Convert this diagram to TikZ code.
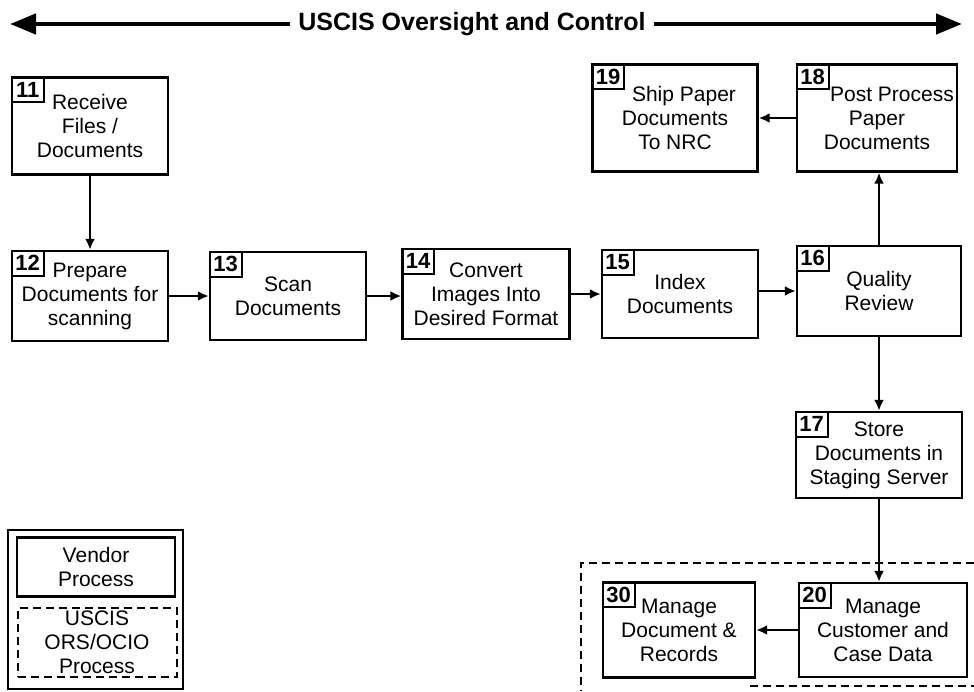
\documentclass[tikz,border=0pt]{standalone}
\usepackage{fontspec}
\setmainfont{Liberation Sans}
\usetikzlibrary{arrows.meta,positioning}

\begin{document}
\begin{tikzpicture}[x=1pt,y=-1pt,
 proc/.style={draw,line width=2.4pt,align=center,inner sep=0pt,minimum width=160pt,minimum height=90pt,font=\fontsize{21}{24}\selectfont},
 tag/.style={draw,line width=1.8pt,anchor=north west,inner sep=1.5pt,minimum width=32pt,minimum height=25pt,font=\bfseries\fontsize{22}{22}\selectfont},
 flow/.style={line width=2.2pt,-{Latex[length=11pt,width=10pt]}},
 wide/.style={line width=4.5pt,-{Triangle[length=26pt,width=20pt]}},
 fence/.style={line width=2pt,dash pattern=on 8pt off 5pt}]
 \useasboundingbox (0,0) rectangle (974,691);
 % oversight banner
 \node[font=\bfseries\fontsize{25}{25}\selectfont,inner sep=8pt] (ttl) at (472,24) {USCIS Oversight and Control};
 \coordinate (lft) at (10,24);
 \coordinate (rgt) at (962,24);
 \draw[wide] (ttl.west) -- (lft);
 \draw[wide] (ttl.east) -- (rgt);
 % vendor steps
 \node[proc,minimum width=156pt,minimum height=97pt] (b11) at (90,126) {Receive\\Files /\\Documents};
 \node[proc,minimum width=156pt] (b12) at (90,296) {Prepare\\Documents for\\scanning};
 \node[proc,minimum width=156pt,minimum height=88pt] (b13) at (288,296) {Scan\\Documents};
 \node[proc,minimum width=167pt] (b14) at (486,294) {Convert\\Images Into\\Desired Format};
 \node[proc,minimum width=156pt,minimum height=88pt] (b15) at (680,294) {Index\\Documents};
 \node[proc,minimum width=164pt] (b16) at (879,291) {Quality\\Review};
 \node[proc,minimum width=166pt,minimum height=86pt] (b17) at (879,455) {Store\\Documents in\\Staging Server};
 \node[proc,minimum width=160pt,minimum height=107pt] (b18) at (877,118) {\hspace*{30pt}Post Process\\Paper\\Documents};
 \node[proc,minimum width=165pt,minimum height=107pt] (b19) at (675,118) {\hspace*{18pt}Ship Paper\\Documents\\To NRC};
 % uscis steps
 \node[proc,minimum width=168pt,minimum height=94pt] (b20) at (883,630) {Manage\\Customer and\\Case Data};
 \node[proc,minimum width=152pt,minimum height=95pt] (b30) at (679,630) {Manage\\Document \&\\Records};
 \foreach \n in {11,12,13,14,15,16,17,18,19,20,30}
  \node[tag] (t\n) at (b\n.north west) {\n};
 \draw[flow] (b11) -- (b12);
 \draw[flow] (b12.east |- b13) -- (b13);
 \draw[flow] (b13) -- (b13 -| b14.west);
 \draw[flow] (b14) -- (b14 -| b15.west);
 \draw[flow] (b15.east |- b16) -- (b16);
 \draw[flow] (b16) -- (b16 |- b18.south);
 \draw[flow] (b16) -- (b17);
 \draw[flow] (b17) -- (b17 |- b20.north);
 \draw[flow] (b18) -- (b18 -| b19.east);
 \draw[flow] (b20) -- (b20 -| b30.east);
 \draw[fence] (974,563) -- (581,563) -- (581,691);
 \draw[fence] (750,686) -- (974,686);
 % key
 \draw[line width=2pt] (8,530) rectangle (183,689);
 \node[proc,minimum width=158pt,minimum height=59pt] (kven) at (96,567) {Vendor\\Process};
 \node[proc,line width=2pt,dash pattern=on 8pt off 5pt,minimum width=159pt,minimum height=69pt] (kors) at (97,642) {USCIS\\ORS/OCIO\\Process};
\end{tikzpicture}
\end{document}
